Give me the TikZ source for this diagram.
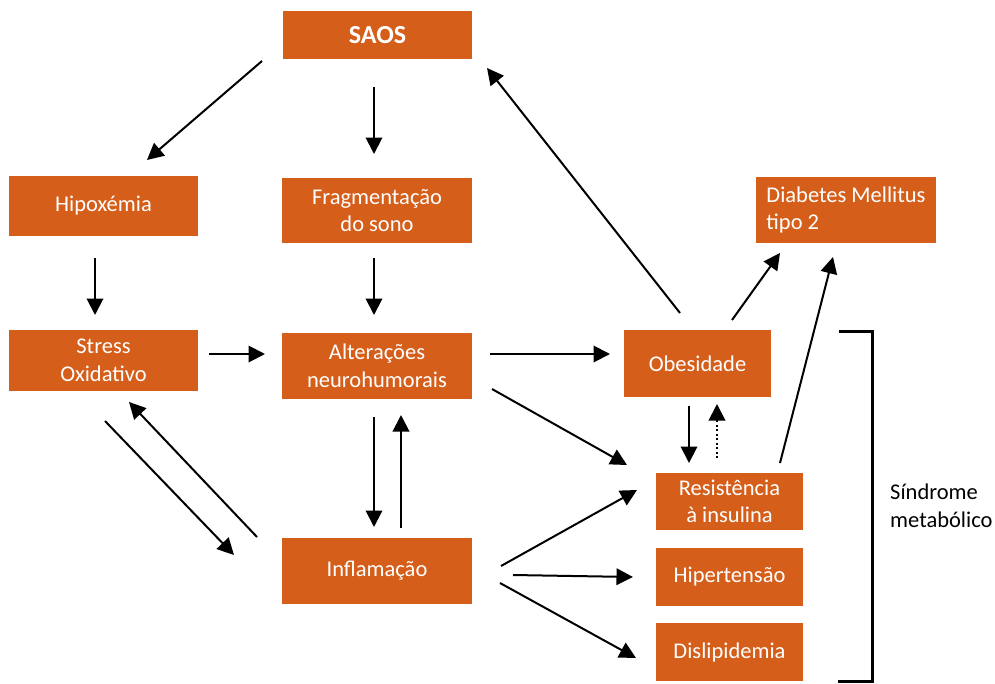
\documentclass[tikz,border=0pt]{standalone}
\usepackage{fontspec}
\setmainfont{Carlito}
\usetikzlibrary{arrows.meta,calc}
\definecolor{boxorange}{HTML}{D55F1A}
\begin{document}
\begin{tikzpicture}[x=1pt,y=-1pt,
  box/.style={fill=boxorange, text=white, inner sep=0pt, align=center,
    font=\fontsize{22.5}{27.5}\selectfont},
  arr/.style={line width=2pt, -{Triangle[length=16.5pt,width=16.5pt]}},
  dotarr/.style={arr, dash pattern=on 2pt off 2.5pt},
  lbl/.style={inner sep=0pt, align=left, font=\fontsize{22.5}{27.5}\selectfont},
]
\useasboundingbox (0,0) rectangle (995,683);

% boxes
\node[box, minimum width=189pt, minimum height=48pt, font=\fontsize{26}{30}\selectfont\bfseries] (saos) at (377.5,35) {SAOS};
\node[box, minimum width=189pt, minimum height=60pt] (hip) at (103.5,206) {Hipoxémia};
\node[box, minimum width=190pt, minimum height=65pt] (frag) at (377,210.5) {Fragmentação\\do sono};
\node[box, minimum width=180pt, minimum height=66pt, align=left] (diab) at (846,210) {Diabetes Mellitus\\tipo 2};
\node[box, minimum width=189pt, minimum height=61pt] (stress) at (103.5,360.5) {Stress\\Oxidativo};
\node[box, minimum width=190pt, minimum height=66pt] (alt) at (377,366) {Alterações\\neurohumorais};
\node[box, minimum width=147pt, minimum height=67pt] (obes) at (697.5,363.5) {Obesidade};
\node[box, minimum width=190pt, minimum height=66pt] (infl) at (377,571) {Inflamação};
\node[box, minimum width=147pt, minimum height=57pt] (res) at (729.5,501.5) {Resistência\\à insulina};
\node[box, minimum width=147pt, minimum height=58pt] (hyp) at (729.5,577) {Hipertensão};
\node[box, minimum width=147pt, minimum height=58pt] (disl) at (729.5,652) {Dislipidemia};

\node[lbl, anchor=west] (sm) at (890,506) {Síndrome\\metabólico};

% connectors
\draw[arr] ($(saos)+(-115.5,26)$) -- ($(hip)+(43.5,-46)$);
\draw[arr] ($(saos)+(-3.5,52)$) -- ($(frag)+(-3,-56.5)$);
\draw[arr] ($(obes)+(-17.5,-50.5)$) -- ($(saos)+(109.5,33)$);
\draw[arr] ($(hip)+(-8.5,52)$) -- ($(stress)+(-8.5,-45.5)$);
\draw[arr] ($(frag)+(-3,47.5)$) -- ($(alt)+(-3,-51)$);
\draw[arr] ($(stress)+(105.5,-6.5)$) -- ($(alt)+(-112,-12)$);
\draw[arr] ($(alt)+(113,-12)$) -- ($(obes)+(-87.5,-9.5)$);
\draw[arr] ($(alt)+(115,23)$) -- ($(res)+(-102.5,-36.5)$);
\draw[arr] ($(alt)+(-3,51)$) -- ($(infl)+(-3,-44)$);
\draw[arr] ($(infl)+(24,-43)$) -- ($(alt)+(24,49)$);
\draw[arr] ($(stress)+(1.5,60.5)$) -- ($(infl)+(-143,-16)$);
\draw[arr] ($(infl)+(-120,-34)$) -- ($(stress)+(25.5,41.5)$);
\draw[arr] ($(obes)+(34.5,-43.5)$) -- ($(diab)+(-66,43)$);
\draw[arr] ($(res)+(50.5,-38.5)$) -- ($(diab)+(-13,47)$);
\draw[arr] ($(obes)+(-8.5,42.5)$) -- ($(res)+(-40.5,-38.5)$);
\draw[dotarr] ($(res)+(-12.5,-43.5)$) -- ($(obes)+(19.5,40.5)$);
\draw[arr] ($(infl)+(124,-5)$) -- ($(res)+(-92.5,-11.5)$);
\draw[arr] ($(infl)+(136,4)$) -- ($(hyp)+(-96.5,0)$);
\draw[arr] ($(infl)+(123,12)$) -- ($(disl)+(-93.5,6)$);

% bracket
\draw[line width=3pt] (839,331.5) -- (872,331.5) -- (872,681.5) -- (838,681.5);
\end{tikzpicture}
\end{document}
